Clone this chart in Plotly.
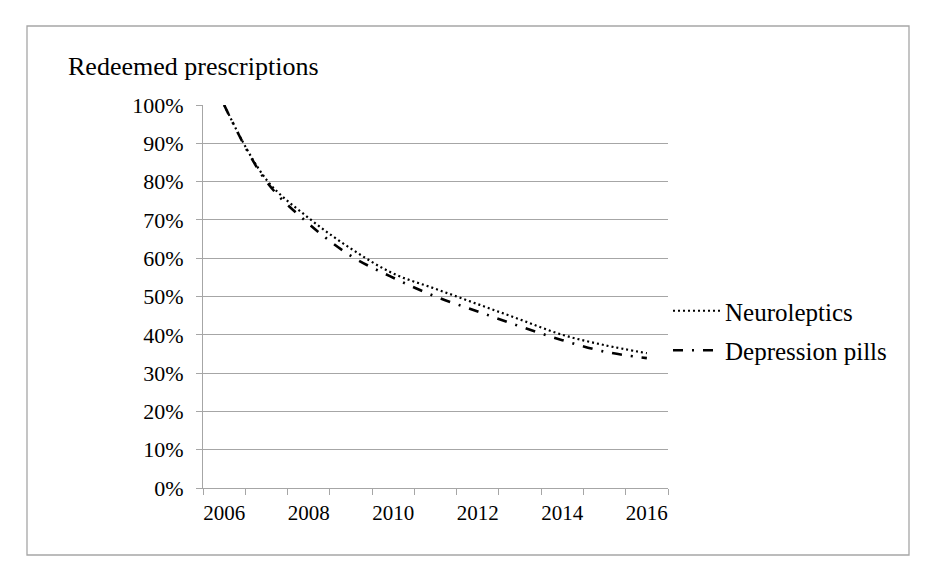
import plotly.graph_objects as go

years = [2006, 2007, 2008, 2009, 2010, 2011, 2012, 2013, 2014, 2015, 2016]
neuroleptics = [1.00, 0.805, 0.705, 0.625, 0.56, 0.52, 0.48, 0.44, 0.40, 0.373, 0.352]
depression = [1.00, 0.80, 0.69, 0.606, 0.549, 0.50, 0.461, 0.422, 0.386, 0.356, 0.339]
label_years = [2006, 2008, 2010, 2012, 2014, 2016]
y_ticks = [0, 0.1, 0.2, 0.3, 0.4, 0.5, 0.6, 0.7, 0.8, 0.9, 1.0]

font = "Liberation Serif, Times New Roman, serif"
grey = "#a6a6a6"

# the page body has an 8px margin, so screen positions are shifted by it
OFF = 8
W, H = 931, 564
# plot area on screen
L, R, T, B = 203 - OFF, 668 - OFF, 105 - OFF, 488 - OFF
pw, ph = R - L, B - T


def px(x):
    return (x - OFF - L) / pw


def py(y):
    return (B - (y - OFF)) / ph


fig = go.Figure()

fig.add_trace(go.Scatter(x=years, y=neuroleptics, mode="lines", name="Neuroleptics",
                         legendgroup="n",
                         line=dict(color="black", width=2.2, dash="2px,3px", shape="spline")))
fig.add_trace(go.Scatter(x=years, y=depression, mode="lines", name="Depression pills",
                         legendgroup="d",
                         line=dict(color="black", width=2.6, dash="10px,9px,2px,9px", shape="spline")))

boundaries = [y - 0.5 for y in years] + [years[-1] + 0.5]

fig.update_xaxes(range=[years[0] - 0.5, years[-1] + 0.5],
                 tickmode="array", tickvals=label_years, ticktext=[str(y) for y in label_years],
                 ticks="", ticklabelstandoff=6,
                 showgrid=False, showline=True, linecolor=grey, linewidth=1,
                 zeroline=False,
                 tickfont=dict(family=font, size=21, color="black"),
                 minor=dict(tickmode="array", tickvals=boundaries, ticks="outside",
                            ticklen=6, tickcolor=grey, tickwidth=1, showgrid=False))

fig.update_yaxes(range=[0, 1], tickmode="array", tickvals=y_ticks,
                 ticktext=["%d%%" % round(v * 100) for v in y_ticks],
                 ticks="outside", ticklen=6, tickcolor=grey, ticklabelstandoff=8,
                 showgrid=True, gridcolor=grey, gridwidth=1,
                 showline=True, linecolor=grey, linewidth=1, zeroline=False,
                 tickfont=dict(family=font, size=22, color="black"))

fig.add_annotation(text="Redeemed prescriptions", xref="paper", yref="paper",
                   x=px(66), y=py(67), xanchor="left", yanchor="middle",
                   showarrow=False, font=dict(family=font, size=26, color="black"))

fig.add_shape(type="rect", xref="paper", yref="paper",
              x0=px(27), x1=px(909), y0=py(555), y1=py(26),
              line=dict(color=grey, width=1.3), layer="below")

fig.update_layout(width=W, height=H,
                  margin=dict(l=L, r=W - R, t=T, b=H - B),
                  paper_bgcolor="white", plot_bgcolor="white",
                  showlegend=True,
                  legend=dict(x=px(668), y=py(288), xanchor="left", yanchor="top",
                              font=dict(family=font, size=25, color="black"),
                              bgcolor="rgba(0,0,0,0)", tracegroupgap=4,
                              itemwidth=47))

fig.write_html("out.html")
